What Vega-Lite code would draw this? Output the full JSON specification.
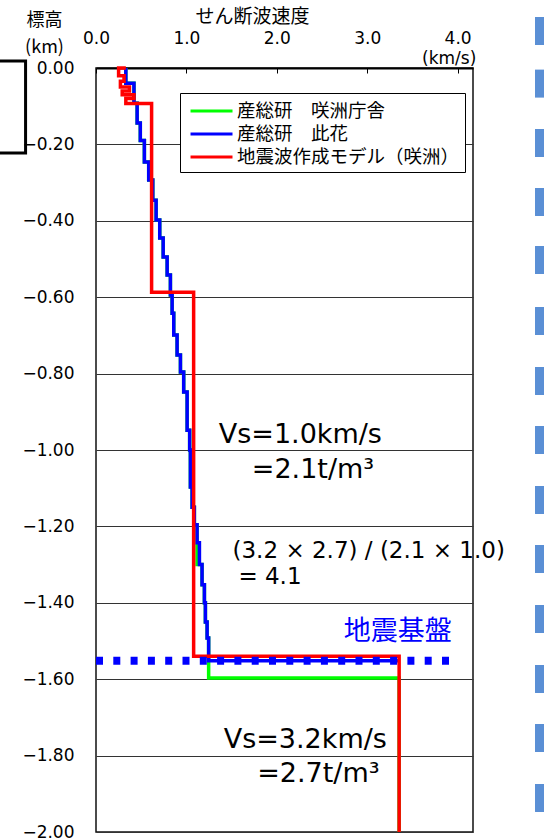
{
  "$schema": "https://vega.github.io/schema/vega-lite/v6.json",
  "width": 377,
  "height": 764,
  "autosize": {"type": "none"},
  "padding": {"left": 96, "top": 68, "right": 71, "bottom": 8},
  "background": "#ffffff",
  "config": {
    "view": {"stroke": "#111111", "strokeWidth": 1.5},
    "legend": {
      "orient": "none", "legendX": 84, "legendY": 25,
      "strokeColor": "#000000", "strokeWidth": 1, "fillColor": "#ffffff", "padding": 5,
      "symbolStrokeWidth": 3, "symbolSize": 529,
      "labelFont": "Noto Sans CJK JP", "labelFontSize": 18.5, "labelColor": "#000000",
      "labelLimit": 400, "rowPadding": 0, "labelOffset": 26
    }
  },
  "datasets": {
    "prof": [
      {"s":"産総研　咲洲庁舎","i":1,"v":0.33,"z":0},
      {"s":"産総研　咲洲庁舎","i":2,"v":0.33,"z":-0.04},
      {"s":"産総研　咲洲庁舎","i":3,"v":0.42,"z":-0.04},
      {"s":"産総研　咲洲庁舎","i":4,"v":0.42,"z":-0.092},
      {"s":"産総研　咲洲庁舎","i":5,"v":0.455,"z":-0.092},
      {"s":"産総研　咲洲庁舎","i":6,"v":0.455,"z":-0.144},
      {"s":"産総研　咲洲庁舎","i":7,"v":0.49,"z":-0.144},
      {"s":"産総研　咲洲庁舎","i":8,"v":0.49,"z":-0.19},
      {"s":"産総研　咲洲庁舎","i":9,"v":0.535,"z":-0.19},
      {"s":"産総研　咲洲庁舎","i":10,"v":0.535,"z":-0.246},
      {"s":"産総研　咲洲庁舎","i":11,"v":0.583,"z":-0.246},
      {"s":"産総研　咲洲庁舎","i":12,"v":0.583,"z":-0.293},
      {"s":"産総研　咲洲庁舎","i":13,"v":0.628,"z":-0.293},
      {"s":"産総研　咲洲庁舎","i":14,"v":0.628,"z":-0.346},
      {"s":"産総研　咲洲庁舎","i":15,"v":0.665,"z":-0.346},
      {"s":"産総研　咲洲庁舎","i":16,"v":0.665,"z":-0.398},
      {"s":"産総研　咲洲庁舎","i":17,"v":0.705,"z":-0.398},
      {"s":"産総研　咲洲庁舎","i":18,"v":0.705,"z":-0.445},
      {"s":"産総研　咲洲庁舎","i":19,"v":0.743,"z":-0.445},
      {"s":"産総研　咲洲庁舎","i":20,"v":0.743,"z":-0.495},
      {"s":"産総研　咲洲庁舎","i":21,"v":0.787,"z":-0.495},
      {"s":"産総研　咲洲庁舎","i":22,"v":0.787,"z":-0.542},
      {"s":"産総研　咲洲庁舎","i":23,"v":0.823,"z":-0.542},
      {"s":"産総研　咲洲庁舎","i":24,"v":0.823,"z":-0.594},
      {"s":"産総研　咲洲庁舎","i":25,"v":0.842,"z":-0.594},
      {"s":"産総研　咲洲庁舎","i":26,"v":0.842,"z":-0.642},
      {"s":"産総研　咲洲庁舎","i":27,"v":0.86,"z":-0.642},
      {"s":"産総研　咲洲庁舎","i":28,"v":0.86,"z":-0.699},
      {"s":"産総研　咲洲庁舎","i":29,"v":0.897,"z":-0.699},
      {"s":"産総研　咲洲庁舎","i":30,"v":0.897,"z":-0.751},
      {"s":"産総研　咲洲庁舎","i":31,"v":0.934,"z":-0.751},
      {"s":"産総研　咲洲庁舎","i":32,"v":0.934,"z":-0.796},
      {"s":"産総研　咲洲庁舎","i":33,"v":0.97,"z":-0.796},
      {"s":"産総研　咲洲庁舎","i":34,"v":0.97,"z":-0.848},
      {"s":"産総研　咲洲庁舎","i":35,"v":1.008,"z":-0.848},
      {"s":"産総研　咲洲庁舎","i":36,"v":1.008,"z":-0.948},
      {"s":"産総研　咲洲庁舎","i":37,"v":1.036,"z":-0.948},
      {"s":"産総研　咲洲庁舎","i":38,"v":1.036,"z":-1.0},
      {"s":"産総研　咲洲庁舎","i":39,"v":1.044,"z":-1.0},
      {"s":"産総研　咲洲庁舎","i":40,"v":1.044,"z":-1.097},
      {"s":"産総研　咲洲庁舎","i":41,"v":1.063,"z":-1.097},
      {"s":"産総研　咲洲庁舎","i":42,"v":1.063,"z":-1.15},
      {"s":"産総研　咲洲庁舎","i":43,"v":1.088,"z":-1.15},
      {"s":"産総研　咲洲庁舎","i":44,"v":1.088,"z":-1.196},
      {"s":"産総研　咲洲庁舎","i":45,"v":1.118,"z":-1.196},
      {"s":"産総研　咲洲庁舎","i":46,"v":1.118,"z":-1.30},
      {"s":"産総研　咲洲庁舎","i":47,"v":1.173,"z":-1.30},
      {"s":"産総研　咲洲庁舎","i":48,"v":1.173,"z":-1.353},
      {"s":"産総研　咲洲庁舎","i":49,"v":1.199,"z":-1.353},
      {"s":"産総研　咲洲庁舎","i":50,"v":1.199,"z":-1.40},
      {"s":"産総研　咲洲庁舎","i":51,"v":1.21,"z":-1.40},
      {"s":"産総研　咲洲庁舎","i":52,"v":1.21,"z":-1.45},
      {"s":"産総研　咲洲庁舎","i":53,"v":1.229,"z":-1.45},
      {"s":"産総研　咲洲庁舎","i":54,"v":1.229,"z":-1.492},
      {"s":"産総研　咲洲庁舎","i":55,"v":1.246,"z":-1.492},
      {"s":"産総研　咲洲庁舎","i":56,"v":1.246,"z":-1.597},
      {"s":"産総研　咲洲庁舎","i":57,"v":3.353,"z":-1.597},
      {"s":"産総研　咲洲庁舎","i":58,"v":3.353,"z":-2.0},
      {"s":"産総研　此花","i":1,"v":0.33,"z":0},
      {"s":"産総研　此花","i":2,"v":0.33,"z":-0.04},
      {"s":"産総研　此花","i":3,"v":0.42,"z":-0.04},
      {"s":"産総研　此花","i":4,"v":0.42,"z":-0.092},
      {"s":"産総研　此花","i":5,"v":0.455,"z":-0.092},
      {"s":"産総研　此花","i":6,"v":0.455,"z":-0.144},
      {"s":"産総研　此花","i":7,"v":0.49,"z":-0.144},
      {"s":"産総研　此花","i":8,"v":0.49,"z":-0.19},
      {"s":"産総研　此花","i":9,"v":0.535,"z":-0.19},
      {"s":"産総研　此花","i":10,"v":0.535,"z":-0.246},
      {"s":"産総研　此花","i":11,"v":0.583,"z":-0.246},
      {"s":"産総研　此花","i":12,"v":0.583,"z":-0.293},
      {"s":"産総研　此花","i":13,"v":0.628,"z":-0.293},
      {"s":"産総研　此花","i":14,"v":0.628,"z":-0.346},
      {"s":"産総研　此花","i":15,"v":0.665,"z":-0.346},
      {"s":"産総研　此花","i":16,"v":0.665,"z":-0.398},
      {"s":"産総研　此花","i":17,"v":0.705,"z":-0.398},
      {"s":"産総研　此花","i":18,"v":0.705,"z":-0.445},
      {"s":"産総研　此花","i":19,"v":0.743,"z":-0.445},
      {"s":"産総研　此花","i":20,"v":0.743,"z":-0.495},
      {"s":"産総研　此花","i":21,"v":0.787,"z":-0.495},
      {"s":"産総研　此花","i":22,"v":0.787,"z":-0.542},
      {"s":"産総研　此花","i":23,"v":0.823,"z":-0.542},
      {"s":"産総研　此花","i":24,"v":0.823,"z":-0.594},
      {"s":"産総研　此花","i":25,"v":0.842,"z":-0.594},
      {"s":"産総研　此花","i":26,"v":0.842,"z":-0.642},
      {"s":"産総研　此花","i":27,"v":0.86,"z":-0.642},
      {"s":"産総研　此花","i":28,"v":0.86,"z":-0.699},
      {"s":"産総研　此花","i":29,"v":0.897,"z":-0.699},
      {"s":"産総研　此花","i":30,"v":0.897,"z":-0.751},
      {"s":"産総研　此花","i":31,"v":0.934,"z":-0.751},
      {"s":"産総研　此花","i":32,"v":0.934,"z":-0.796},
      {"s":"産総研　此花","i":33,"v":0.97,"z":-0.796},
      {"s":"産総研　此花","i":34,"v":0.97,"z":-0.848},
      {"s":"産総研　此花","i":35,"v":1.008,"z":-0.848},
      {"s":"産総研　此花","i":36,"v":1.008,"z":-0.948},
      {"s":"産総研　此花","i":37,"v":1.036,"z":-0.948},
      {"s":"産総研　此花","i":38,"v":1.036,"z":-1.0},
      {"s":"産総研　此花","i":39,"v":1.044,"z":-1.0},
      {"s":"産総研　此花","i":40,"v":1.044,"z":-1.097},
      {"s":"産総研　此花","i":41,"v":1.063,"z":-1.097},
      {"s":"産総研　此花","i":42,"v":1.063,"z":-1.15},
      {"s":"産総研　此花","i":43,"v":1.088,"z":-1.15},
      {"s":"産総研　此花","i":44,"v":1.088,"z":-1.196},
      {"s":"産総研　此花","i":45,"v":1.118,"z":-1.196},
      {"s":"産総研　此花","i":46,"v":1.118,"z":-1.243},
      {"s":"産総研　此花","i":47,"v":1.144,"z":-1.243},
      {"s":"産総研　此花","i":48,"v":1.144,"z":-1.30},
      {"s":"産総研　此花","i":49,"v":1.173,"z":-1.30},
      {"s":"産総研　此花","i":50,"v":1.173,"z":-1.353},
      {"s":"産総研　此花","i":51,"v":1.199,"z":-1.353},
      {"s":"産総研　此花","i":52,"v":1.199,"z":-1.40},
      {"s":"産総研　此花","i":53,"v":1.21,"z":-1.40},
      {"s":"産総研　此花","i":54,"v":1.21,"z":-1.45},
      {"s":"産総研　此花","i":55,"v":1.229,"z":-1.45},
      {"s":"産総研　此花","i":56,"v":1.229,"z":-1.492},
      {"s":"産総研　此花","i":57,"v":1.246,"z":-1.492},
      {"s":"産総研　此花","i":58,"v":1.246,"z":-1.552},
      {"s":"産総研　此花","i":59,"v":3.353,"z":-1.552},
      {"s":"地震波作成モデル（咲洲）","i":1,"v":0.33,"z":0},
      {"s":"地震波作成モデル（咲洲）","i":2,"v":0.25,"z":0},
      {"s":"地震波作成モデル（咲洲）","i":3,"v":0.25,"z":-0.02},
      {"s":"地震波作成モデル（咲洲）","i":4,"v":0.31,"z":-0.02},
      {"s":"地震波作成モデル（咲洲）","i":5,"v":0.31,"z":-0.035},
      {"s":"地震波作成モデル（咲洲）","i":6,"v":0.27,"z":-0.035},
      {"s":"地震波作成モデル（咲洲）","i":7,"v":0.27,"z":-0.05},
      {"s":"地震波作成モデル（咲洲）","i":8,"v":0.37,"z":-0.05},
      {"s":"地震波作成モデル（咲洲）","i":9,"v":0.37,"z":-0.06},
      {"s":"地震波作成モデル（咲洲）","i":10,"v":0.29,"z":-0.06},
      {"s":"地震波作成モデル（咲洲）","i":11,"v":0.29,"z":-0.07},
      {"s":"地震波作成モデル（咲洲）","i":12,"v":0.42,"z":-0.07},
      {"s":"地震波作成モデル（咲洲）","i":13,"v":0.42,"z":-0.08},
      {"s":"地震波作成モデル（咲洲）","i":14,"v":0.33,"z":-0.08},
      {"s":"地震波作成モデル（咲洲）","i":15,"v":0.33,"z":-0.093},
      {"s":"地震波作成モデル（咲洲）","i":16,"v":0.615,"z":-0.093},
      {"s":"地震波作成モデル（咲洲）","i":17,"v":0.615,"z":-0.587},
      {"s":"地震波作成モデル（咲洲）","i":18,"v":1.08,"z":-0.587},
      {"s":"地震波作成モデル（咲洲）","i":19,"v":1.08,"z":-1.54},
      {"s":"地震波作成モデル（咲洲）","i":20,"v":3.353,"z":-1.54},
      {"s":"地震波作成モデル（咲洲）","i":21,"v":3.353,"z":-2.0}
    ],
    "base": [{"v": 0.0, "v2": 4.0, "z": -1.552}],
    "bracket": [
      {"i":1,"v":-1.2,"z":0.0183},
      {"i":2,"v":-0.779,"z":0.0183},
      {"i":3,"v":-0.779,"z":-0.2225},
      {"i":4,"v":-1.2,"z":-0.2225}
    ],
    "squares": [
      {"v":4.856,"v2":5.2,"z":0.1335,"z2":0.0602},
      {"v":4.856,"v2":5.2,"z":-0.0042,"z2":-0.0775},
      {"v":4.856,"v2":5.2,"z":-0.1597,"z2":-0.2330},
      {"v":4.856,"v2":5.2,"z":-0.3141,"z2":-0.3874},
      {"v":4.856,"v2":5.2,"z":-0.4660,"z2":-0.5393},
      {"v":4.856,"v2":5.2,"z":-0.6257,"z2":-0.6990},
      {"v":4.856,"v2":5.2,"z":-0.7827,"z2":-0.8560},
      {"v":4.856,"v2":5.2,"z":-0.9372,"z2":-1.0105},
      {"v":4.856,"v2":5.2,"z":-1.0942,"z2":-1.1675},
      {"v":4.856,"v2":5.2,"z":-1.2487,"z2":-1.3220},
      {"v":4.856,"v2":5.2,"z":-1.4058,"z2":-1.4791},
      {"v":4.856,"v2":5.2,"z":-1.5628,"z2":-1.6361},
      {"v":4.856,"v2":5.2,"z":-1.7173,"z2":-1.7906},
      {"v":4.856,"v2":5.2,"z":-1.8743,"z2":-1.9476}
    ],
    "bignotes": [
      {"t":"Vs=1.0km/s","v":2.26,"z":-0.982},
      {"t":"=2.1t/m³","v":2.40,"z":-1.073},
      {"t":"Vs=3.2km/s","v":2.315,"z":-1.78},
      {"t":"=2.7t/m³","v":2.46,"z":-1.869}
    ],
    "ratio": [
      {"t":"(3.2 × 2.7) / (2.1 × 1.0)","v":1.51,"z":-1.283},
      {"t":"= 4.1","v":1.575,"z":-1.351}
    ],
    "bedrock": [{"t":"地震基盤","v":3.337,"z":-1.476}],
    "unit": [{"t":"(km/s)","v":3.906,"z":0.0105}]
  },
  "encoding": {
    "x": {
      "field": "v", "type": "quantitative",
      "scale": {"domain": [0, 4.17], "nice": false, "zero": false},
      "axis": {
        "orient": "top", "values": [0, 1, 2, 3, 4], "format": ".1f",
        "labelFont": "DejaVu Sans", "labelFontSize": 17, "labelColor": "#000000",
        "labelBaseline": "alphabetic", "labelPadding": 30, "labelFlush": false,
        "ticks": true, "tickSize": -5, "tickColor": "#000000", "tickWidth": 1,
        "domain": true, "domainColor": "#000000", "domainWidth": 2, "grid": false,
        "title": "せん断波速度", "titleFont": "Noto Sans CJK JP", "titleFontSize": 19,
        "titleFontWeight": "normal", "titleColor": "#000000",
        "titleX": 156, "titleY": -52, "titleBaseline": "middle", "titleAlign": "center", "titleAnchor": null
      }
    },
    "y": {
      "field": "z", "type": "quantitative",
      "scale": {"domain": [-2, 0], "nice": false, "zero": false},
      "axis": {
        "orient": "left", "values": [0, -0.2, -0.4, -0.6, -0.8, -1.0, -1.2, -1.4, -1.6, -1.8, -2.0],
        "format": ".2f", "labelFont": "DejaVu Sans", "labelFontSize": 17, "labelColor": "#000000",
        "labelPadding": 22, "ticks": false, "domain": false, "labelFlush": false,
        "grid": true, "gridColor": "#333333", "gridWidth": 1,
        "title": ["標高", "(km)"], "titleFont": "Noto Sans CJK JP", "titleFontSize": 18,
        "titleFontWeight": "normal", "titleColor": "#000000", "titleAngle": 0,
        "titleX": -52, "titleY": -57, "titleBaseline": "top", "titleAlign": "center", "titleLineHeight": 27
      }
    }
  },
  "layer": [
    {
      "data": {"name": "bracket"},
      "mark": {"type": "line", "color": "#000000", "strokeWidth": 3, "clip": false},
      "encoding": {"order": {"field": "i"}}
    },
    {
      "data": {"name": "squares"},
      "mark": {"type": "rect", "color": "#5a8fd5", "clip": false},
      "encoding": {"x2": {"field": "v2"}, "y2": {"field": "z2"}}
    },
    {
      "data": {"name": "prof"},
      "mark": {"type": "line", "strokeWidth": 3.5, "strokeJoin": "miter", "strokeCap": "butt"},
      "encoding": {
        "order": {"field": "i"},
        "color": {
          "field": "s", "type": "nominal",
          "scale": {"domain": ["産総研　咲洲庁舎", "産総研　此花", "地震波作成モデル（咲洲）"], "range": ["#00ff00", "#0000ff", "#ff0000"]},
          "legend": {"title": null, "symbolType": "M-0.65,0H3.0", "symbolStrokeWidth": 3, "symbolSize": 529}
        }
      }
    },
    {
      "data": {"name": "base"},
      "mark": {"type": "rule", "color": "#0000ff", "strokeWidth": 8, "strokeDash": [7, 10.3], "strokeCap": "butt"},
      "encoding": {"x2": {"field": "v2"}}
    },
    {
      "data": {"name": "bignotes"},
      "mark": {"type": "text", "font": "DejaVu Sans", "fontSize": 27, "align": "center", "baseline": "alphabetic", "color": "#000000"},
      "encoding": {"text": {"field": "t"}}
    },
    {
      "data": {"name": "ratio"},
      "mark": {"type": "text", "font": "DejaVu Sans", "fontSize": 23, "align": "left", "baseline": "alphabetic", "color": "#000000"},
      "encoding": {"text": {"field": "t"}}
    },
    {
      "data": {"name": "bedrock"},
      "mark": {"type": "text", "font": "Noto Sans CJK JP", "fontSize": 27, "align": "center", "baseline": "middle", "color": "#0000ff"},
      "encoding": {"text": {"field": "t"}}
    },
    {
      "data": {"name": "unit"},
      "mark": {"type": "text", "font": "DejaVu Sans", "fontSize": 17, "align": "center", "baseline": "alphabetic", "color": "#000000", "clip": false},
      "encoding": {"text": {"field": "t"}}
    }
  ]
}
